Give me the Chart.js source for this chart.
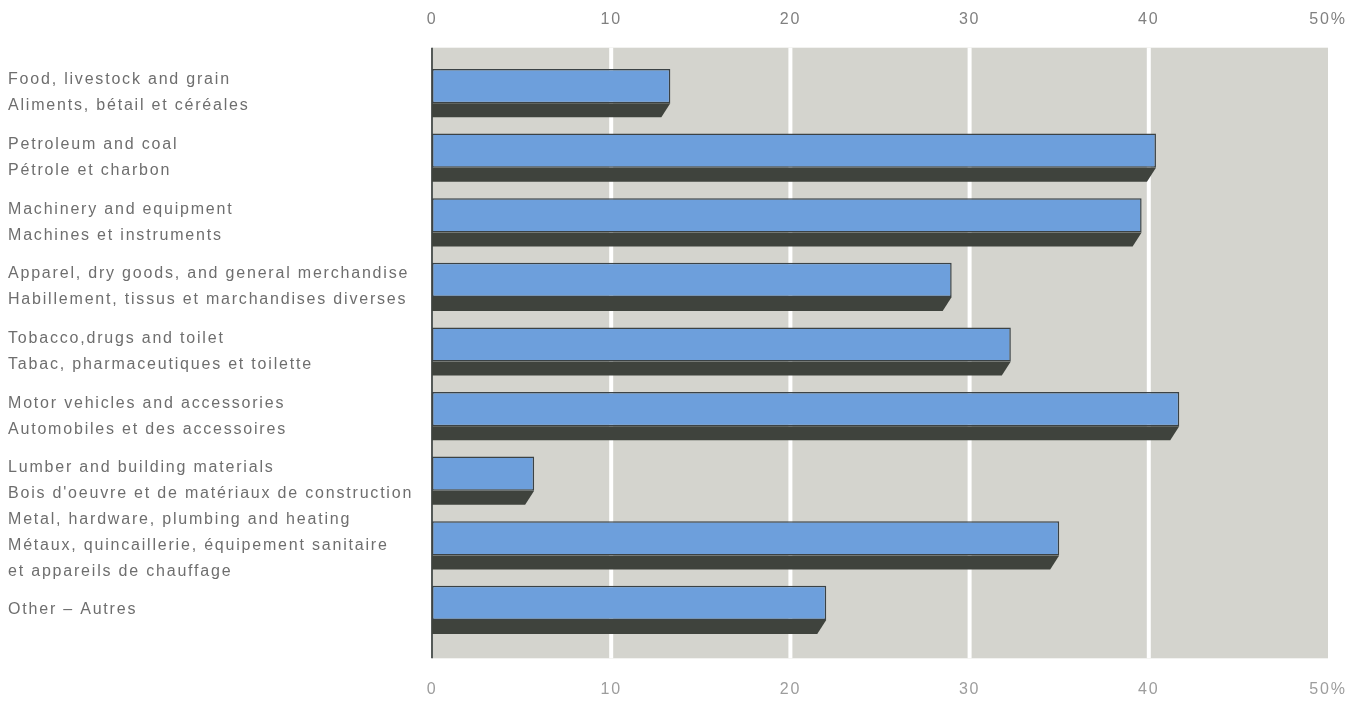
<!DOCTYPE html>
<html>
<head>
<meta charset="utf-8">
<script src="https://cdn.jsdelivr.net/npm/chart.js@4/dist/chart.umd.min.js"></script>
<style>
  body { margin: 0; background: #fff; }
  canvas { display: block; }
</style>
</head>
<body>
<canvas id="shareChart" width="1364" height="703"></canvas>
<script>
// categories, bilingual (english / french)
const categories = [
    ['Food, livestock and grain', 'Aliments, bétail et céréales'],
    ['Petroleum and coal', 'Pétrole et charbon'],
    ['Machinery and equipment', 'Machines et instruments'],
    ['Apparel, dry goods, and general merchandise', 'Habillement, tissus et marchandises diverses'],
    ['Tobacco,drugs and toilet', 'Tabac, pharmaceutiques et toilette'],
    ['Motor vehicles and accessories', 'Automobiles et des accessoires'],
    ['Lumber and building materials', "Bois d'oeuvre et de matériaux de construction"],
    ['Metal, hardware, plumbing and heating', 'Métaux, quincaillerie, équipement sanitaire', 'et appareils de chauffage'],
    ['Other – Autres']
];

// percent values
const shares = [13.3, 40.4, 39.6, 29.0, 32.3, 41.7, 5.7, 35.0, 22.0];

const tickLabels = ['0', '10', '20', '30', '40', '50%'];
const gridValues = [10, 20, 30, 40];

const font = '"Liberation Sans", Arial, Helvetica, sans-serif';

// gray panel, white grid lines and the dark left rule
const panelPlugin = {
    id: 'panel',
    beforeLayout(chart) {
        chart.ctx.letterSpacing = '1.8px';
    },
    beforeDraw(chart) {
        const { ctx, chartArea, scales } = chart;
        ctx.letterSpacing = '1.8px';
        const top = chartArea.top - 6;
        const bottom = chartArea.bottom + 23;
        const x0 = scales.x.getPixelForValue(0);
        const x50 = scales.x.getPixelForValue(50);
        ctx.save();
        ctx.fillStyle = '#d4d4ce';
        ctx.fillRect(x0, top, x50 - x0, bottom - top);
        ctx.strokeStyle = '#ffffff';
        ctx.lineWidth = 4;
        gridValues.forEach(v => {
            const gx = scales.x.getPixelForValue(v);
            ctx.beginPath();
            ctx.moveTo(gx, top);
            ctx.lineTo(gx, bottom);
            ctx.stroke();
        });
        ctx.strokeStyle = '#555a58';
        ctx.lineWidth = 2;
        ctx.beginPath();
        ctx.moveTo(x0, top);
        ctx.lineTo(x0, bottom);
        ctx.stroke();
        ctx.restore();
    }
};

// dark slab under each bar for the 3d look
const shadowPlugin = {
    id: 'barShadow',
    beforeDatasetsDraw(chart) {
        const ctx = chart.ctx;
        const meta = chart.getDatasetMeta(0);
        ctx.save();
        ctx.fillStyle = '#3f433d';
        meta.data.forEach(bar => {
            const p = bar.getProps(['x', 'y', 'base', 'height'], true);
            const top = p.y + p.height / 2;
            const bottom = top + 14;
            ctx.beginPath();
            ctx.moveTo(p.base, top);
            ctx.lineTo(p.x, top);
            ctx.lineTo(p.x - 9, bottom);
            ctx.lineTo(p.base, bottom);
            ctx.closePath();
            ctx.fill();
        });
        ctx.restore();
    }
};

// tick padding would otherwise widen the side overhang of the x axes
function fitX(height) {
    return s => {
        s.height = height;
        s.paddingLeft = 0;
        s.paddingRight = 0;
    };
}

const ctx = document.getElementById('shareChart').getContext('2d');

new Chart(ctx, {
    type: 'bar',
    data: {
        labels: categories,
        datasets: [{
            data: shares,
            backgroundColor: '#6d9fdc',
            borderColor: '#3b4245',
            borderWidth: 1.5,
            borderSkipped: false,
            categoryPercentage: 1,
            barPercentage: 0.53
        }]
    },
    options: {
        indexAxis: 'y',
        responsive: false,
        animation: false,
        devicePixelRatio: 1,
        layout: { padding: { left: 8, right: 36, top: 0, bottom: 0 } },
        plugins: {
            legend: { display: false },
            tooltip: { enabled: false }
        },
        scales: {
            x: {
                type: 'linear',
                position: 'top',
                min: 0,
                max: 50,
                grid: { display: false, drawTicks: false },
                border: { display: false },
                ticks: {
                    stepSize: 10,
                    padding: 25,
                    color: '#808080',
                    font: { family: font, size: 16 },
                    callback: (v, i) => tickLabels[i]
                },
                afterFit: fitX(53.7)
            },
            x2: {
                type: 'linear',
                position: 'bottom',
                min: 0,
                max: 50,
                grid: { display: false, drawTicks: false },
                border: { display: false },
                ticks: {
                    stepSize: 10,
                    padding: 45,
                    color: '#9d9d9d',
                    font: { family: font, size: 16 },
                    callback: (v, i) => tickLabels[i]
                },
                afterFit: fitX(67.7)
            },
            y: {
                type: 'category',
                grid: { display: false, drawTicks: false },
                border: { display: false },
                ticks: {
                    autoSkip: false,
                    crossAlign: 'far',
                    padding: 0,
                    labelOffset: 7,
                    color: '#6e6e6e',
                    font: { family: font, size: 16, lineHeight: '26px' },
                    callback: (v, i) => categories[i]
                },
                afterFit: s => { s.width = 424; }
            }
        }
    },
    plugins: [panelPlugin, shadowPlugin]
});
</script>
</body>
</html>
